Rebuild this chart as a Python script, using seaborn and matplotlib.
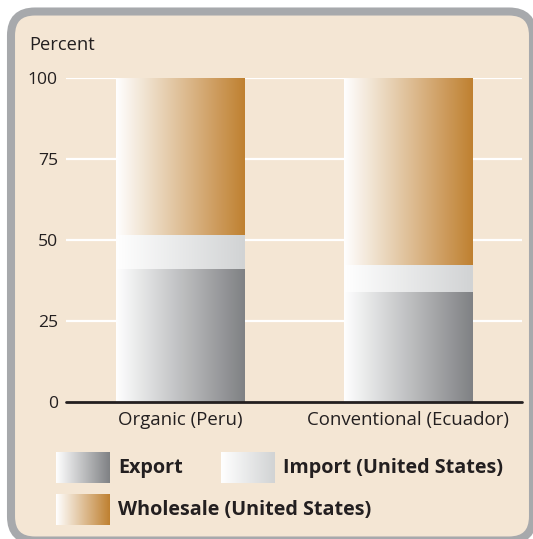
import numpy as np
import pandas as pd
import matplotlib
matplotlib.use("Agg")
import matplotlib.pyplot as plt
from matplotlib.colors import to_rgb
from matplotlib.patches import FancyBboxPatch
import seaborn as sns

# --- data -------------------------------------------------------------
categories = ["Organic (Peru)", "Conventional (Ecuador)"]
segments = ["Export", "Import (United States)", "Wholesale (United States)"]
export_share = [41.0, 34.0]
import_share = [10.5, 8.3]
wholesale_share = [48.5, 57.7]
y_ticks = [0, 25, 50, 75, 100]

# --- style ------------------------------------------------------------
sns.set_style("white")
plt.rcParams["font.family"] = ["Open Sans", "DejaVu Sans"]
TEXT = "#231f20"
BEIGE = "#f4e6d4"
FRAME = "#a7a9ac"
seg_colors = {
    "Export": "#7f8184",
    "Import (United States)": "#d1d3d4",
    "Wholesale (United States)": "#bf8030",
}

W, H = 533, 539
fig = plt.figure(figsize=(W / 100, H / 100), dpi=100)

# background panel in pixel coordinates
bg = fig.add_axes([0, 0, 1, 1])
bg.set_xlim(0, W)
bg.set_ylim(H, 0)
bg.axis("off")
frame = FancyBboxPatch((11, 11.5), 522, 529,
                       boxstyle="round,pad=0,rounding_size=24",
                       facecolor=BEIGE, edgecolor=FRAME, linewidth=5.8)
bg.add_patch(frame)


def gradient(color, n=256):
    start = np.array([1.0, 1.0, 1.0])
    end = np.array(to_rgb(color))
    t = np.linspace(0, 1, n)[:, None]
    return (start + (end - start) * t)[None, :, :]


# --- chart axes -------------------------------------------------------
ax = fig.add_axes([66 / W, 1 - 402 / H, (522 - 66) / W, (402 - 78) / H])
ax.set_facecolor("none")

# cumulative tops so each layer can be drawn over the taller one
tops = {
    "Wholesale (United States)": [e + i + w for e, i, w in zip(export_share, import_share, wholesale_share)],
    "Import (United States)": [e + i for e, i in zip(export_share, import_share)],
    "Export": list(export_share),
}
df = pd.DataFrame([
    {"category": c, "segment": s, "top": tops[s][k]}
    for s in ["Wholesale (United States)", "Import (United States)", "Export"]
    for k, c in enumerate(categories)
])

layer_z = {"Wholesale (United States)": 2, "Import (United States)": 3, "Export": 4}
for seg in ["Wholesale (United States)", "Import (United States)", "Export"]:
    sub = df[df["segment"] == seg]
    n_before = len(ax.patches)
    sns.barplot(data=sub, x="category", y="top", order=categories,
                width=0.565, color=seg_colors[seg], errorbar=None,
                ax=ax, zorder=layer_z[seg])
    for patch in ax.patches[n_before:]:
        x0, y0 = patch.get_x(), patch.get_y()
        w, h = patch.get_width(), patch.get_height()
        img = ax.imshow(gradient(seg_colors[seg]), extent=[x0, x0 + w, y0, y0 + h],
                        aspect="auto", origin="lower", interpolation="bilinear",
                        zorder=layer_z[seg])
        img.set_clip_path(patch)
        patch.set_facecolor("none")
        patch.set_edgecolor("none")

ax.set_xlim(-0.5, 1.5)
ax.set_ylim(0, 100)
ax.set_yticks(y_ticks)
ax.set_yticklabels([str(v) for v in y_ticks])
for v in y_ticks[1:]:
    ax.axhline(v, color="white", linewidth=1.6, zorder=1)
ax.axhline(0, color=TEXT, linewidth=2.0, zorder=6, clip_on=False)
for s in ax.spines.values():
    s.set_visible(False)
ax.tick_params(axis="y", length=0, pad=5.8, labelsize=12.6, labelcolor=TEXT)
ax.tick_params(axis="x", length=0, pad=6.5, labelsize=13.4, labelcolor=TEXT)
ax.set_xlabel("")
ax.set_ylabel("")
ax.grid(False)

bg.text(29, 50, "Percent", fontsize=13.2, color=TEXT, va="baseline", ha="left")

# --- legend -----------------------------------------------------------
legend_items = [
    ("Export", 56, 452),
    ("Import (United States)", 221, 452),
    ("Wholesale (United States)", 56, 494),
]
for label, lx, ly in legend_items:
    bg.imshow(gradient(seg_colors[label]), extent=[lx, lx + 54, ly + 31, ly],
              aspect="auto", interpolation="bilinear", zorder=3)
    bg.text(lx + 62, ly + 15.5, label, fontsize=14.2, fontweight="bold",
            color=TEXT, va="center", ha="left", zorder=4)
bg.set_xlim(0, W)
bg.set_ylim(H, 0)

fig.savefig("out.png", dpi=100)
